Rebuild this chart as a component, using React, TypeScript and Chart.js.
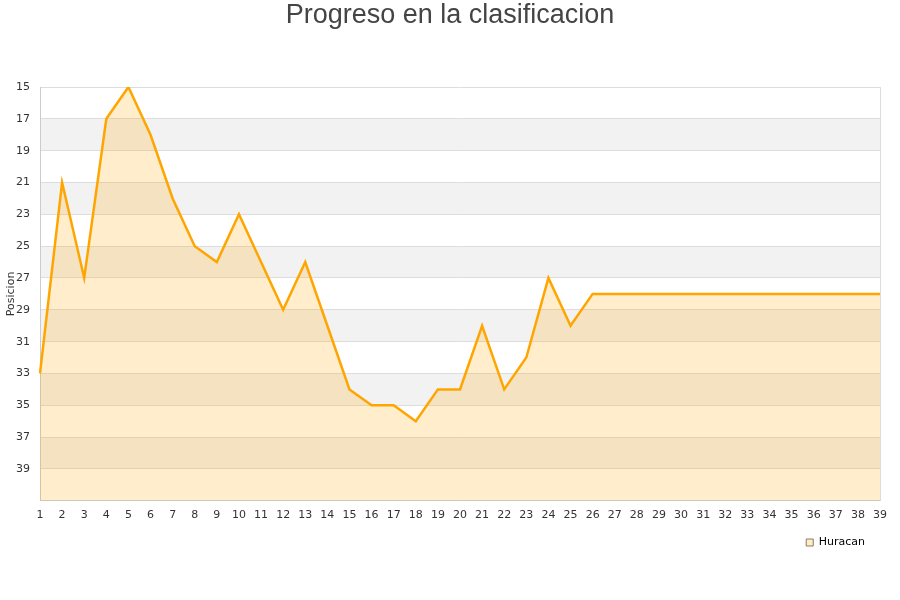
import React, { useEffect, useRef } from "react";
import { Chart, registerables } from "chart.js";

Chart.register(...registerables);

const jornadas: string[] = Array.from({ length: 39 }, (_, i) => String(i + 1));
const posiciones: number[] = [
  33, 21, 27, 17, 15, 18, 22, 25, 26, 23, 26, 29, 26, 30, 34, 35, 35, 36, 34, 34,
  30, 34, 32, 27, 30, 28, 28, 28, 28, 28, 28, 28, 28, 28, 28, 28, 28, 28, 28,
];
const bandas: [number, number][] = [
  [17, 19], [21, 23], [25, 27], [29, 31], [33, 35], [37, 39],
];
const titulo = "Progreso en la clasificacion";
const serie = "Huracan";
const ejeY = "Posicion";

const bandPlugin = {
  id: "bands",
  beforeDraw(chart: any) {
    const { ctx, chartArea, scales } = chart;
    const y = scales.y;
    ctx.save();
    ctx.fillStyle = "#f2f2f2";
    bandas.forEach(([a, b]) => {
      const y1 = y.getPixelForValue(a);
      const y2 = y.getPixelForValue(b);
      ctx.fillRect(chartArea.left, Math.min(y1, y2), chartArea.right - chartArea.left, Math.abs(y2 - y1));
    });
    ctx.restore();
  },
  afterDraw(chart: any) {
    const { ctx, chartArea, width } = chart;
    ctx.save();
    ctx.strokeStyle = "#dddddd";
    ctx.lineWidth = 1;
    ctx.beginPath();
    ctx.moveTo(chartArea.right + 0.5, chartArea.top);
    ctx.lineTo(chartArea.right + 0.5, chartArea.bottom);
    ctx.stroke();
    ctx.fillStyle = "#444444";
    ctx.font = "normal 27px 'Liberation Sans', Arial, sans-serif";
    ctx.textAlign = "center";
    ctx.textBaseline = "middle";
    ctx.fillText(titulo, width / 2, 16);
    ctx.restore();
  },
};

export default function App() {
  const ref = useRef<HTMLCanvasElement | null>(null);
  useEffect(() => {
    document.body.style.margin = "0";
    const chart = new Chart(ref.current as HTMLCanvasElement, {
      type: "line",
      data: {
        labels: jornadas,
        datasets: [
          {
            label: serie,
            data: posiciones,
            borderColor: "#ffa500",
            backgroundColor: "rgba(255,165,0,0.2)",
            borderWidth: 2.5,
            fill: "start",
            tension: 0,
            pointRadius: 0,
            pointHoverRadius: 0,
          },
        ],
      },
      options: {
        animation: false,
        responsive: false,
        layout: { padding: { left: 0, right: 20, top: 87, bottom: 42 } },
        plugins: {
          title: { display: false },
          legend: {
            position: "bottom",
            align: "end",
            labels: {
              boxWidth: 7,
              boxHeight: 7,
              color: "#000000",
              font: { family: "'DejaVu Sans', sans-serif", size: 11 },
              padding: 15,
              generateLabels: (c: any) => {
                const items = Chart.defaults.plugins.legend.labels.generateLabels(c);
                items.forEach((it: any) => {
                  it.lineWidth = 1;
                  it.strokeStyle = "#8a7a5a";
                });
                return items;
              },
            },
          },
          tooltip: { enabled: false },
        },
        scales: {
          x: {
            offset: false,
            grid: { display: false },
            border: { color: "#cccccc" },
            ticks: {
              color: "#333333",
              font: { family: "'DejaVu Sans', sans-serif", size: 11 },
              maxRotation: 0,
              autoSkip: false,
              padding: 0,
            },
          },
          y: {
            reverse: true,
            min: 15,
            max: 41,
            afterFit: (s: any) => {
              s.width = 40;
            },
            grid: { color: "#dddddd", drawTicks: false },
            border: { color: "#cccccc" },
            title: {
              display: true,
              text: ejeY,
              color: "#333333",
              font: { family: "'DejaVu Sans', sans-serif", size: 11 },
              padding: { top: 5, bottom: 0 },
            },
            ticks: {
              stepSize: 2,
              color: "#333333",
              font: { family: "'DejaVu Sans', sans-serif", size: 11 },
              padding: 10,
              callback: (v: any) => (Number(v) === 41 ? "" : String(v)),
            },
          },
        },
      },
      plugins: [bandPlugin],
    });
    return () => chart.destroy();
  }, []);
  return <canvas ref={ref} width={900} height={600} style={{ display: "block" }} />;
}
